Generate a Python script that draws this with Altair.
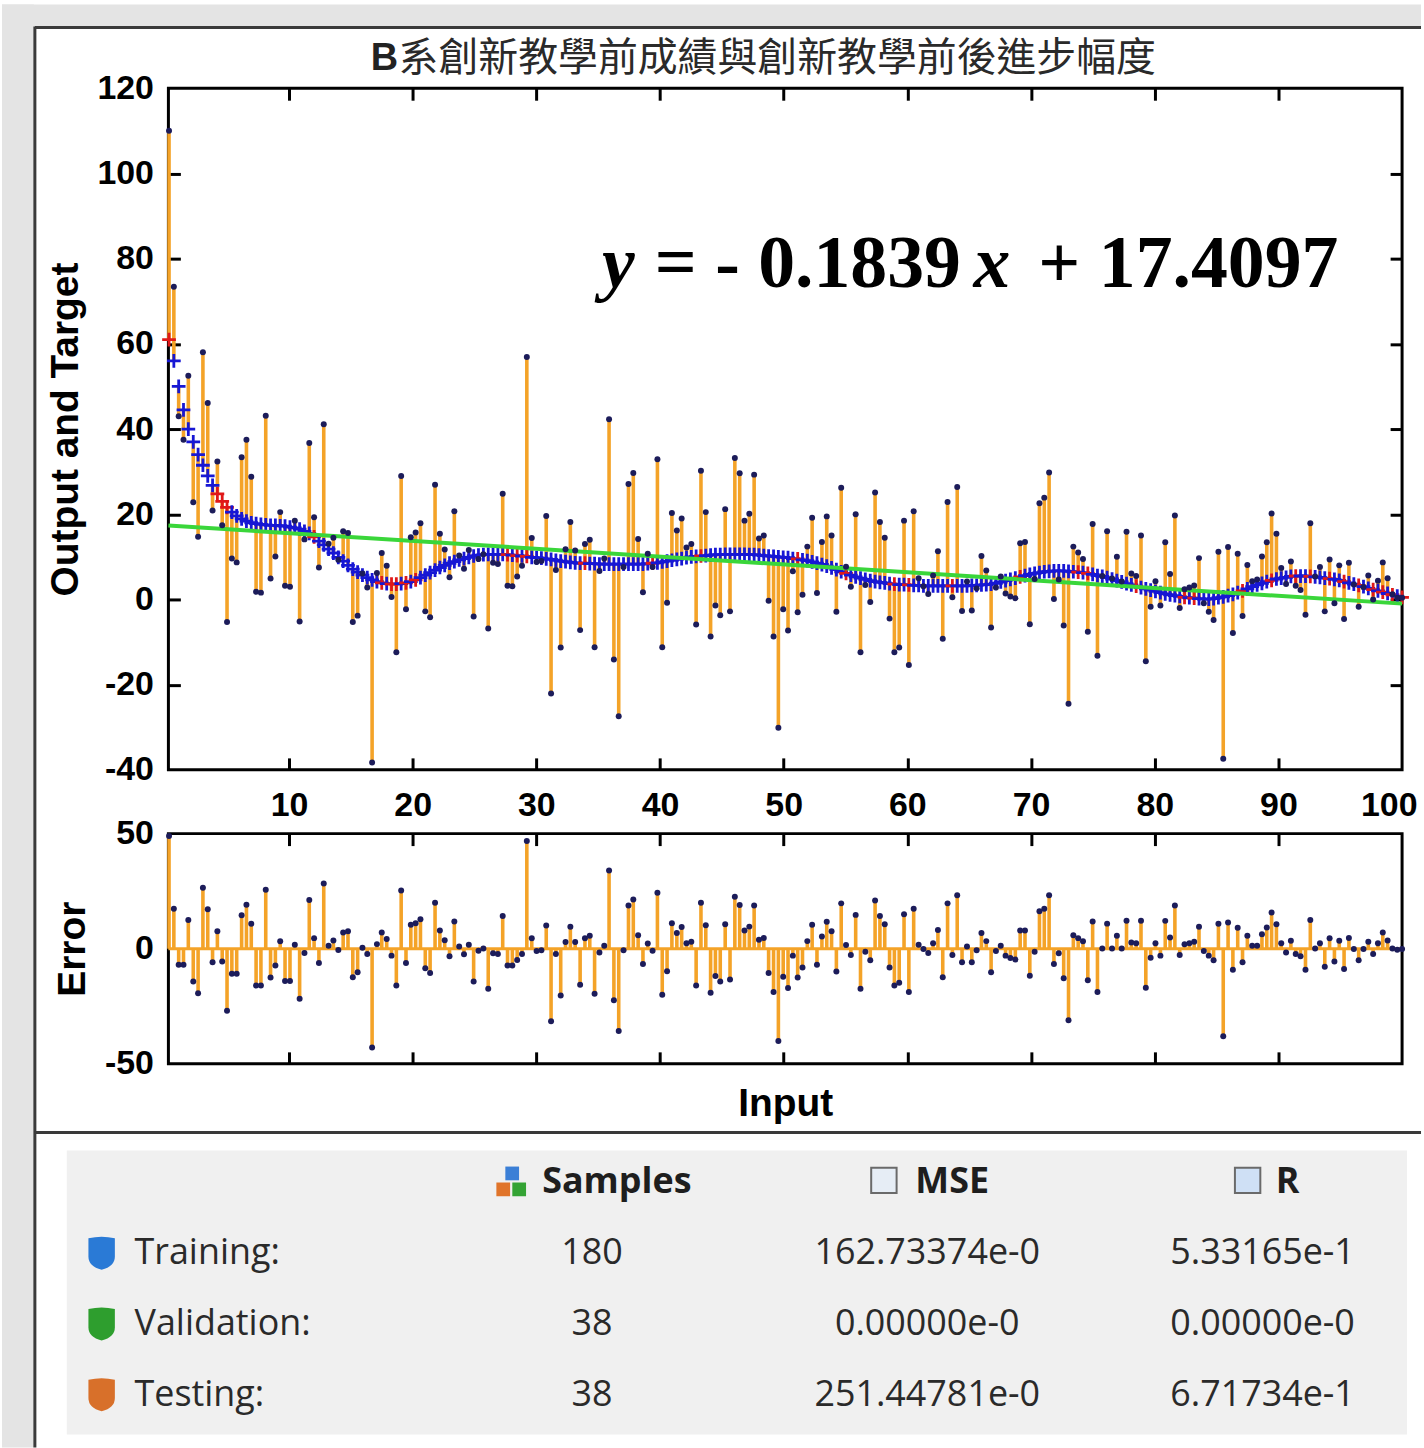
import altair as alt
import pandas as pd

# ---------------- data ----------------
input_x = [
    0.30, 0.69, 1.08, 1.47, 1.86, 2.26, 2.65, 3.04, 3.43, 3.82,
    4.21, 4.60, 4.99, 5.38, 5.77, 6.17, 6.56, 6.95, 7.34, 7.73,
    8.12, 8.51, 8.90, 9.29, 9.68, 10.08, 10.47, 10.86, 11.25, 11.64,
    12.03, 12.42, 12.81, 13.20, 13.59, 13.99, 14.38, 14.77, 15.16, 15.55,
    15.94, 16.33, 16.72, 17.11, 17.50, 17.90, 18.29, 18.68, 19.07, 19.46,
    19.85, 20.24, 20.63, 21.02, 21.41, 21.81, 22.20, 22.59, 22.98, 23.37,
    23.76, 24.15, 24.54, 24.93, 25.32, 25.72, 26.11, 26.50, 26.89, 27.28,
    27.67, 28.06, 28.45, 28.84, 29.23, 29.63, 30.02, 30.41, 30.80, 31.19,
    31.58, 31.97, 32.36, 32.75, 33.14, 33.54, 33.93, 34.32, 34.71, 35.10,
    35.49, 35.88, 36.27, 36.66, 37.05, 37.45, 37.84, 38.23, 38.62, 39.01,
    39.40, 39.79, 40.18, 40.57, 40.96, 41.36, 41.75, 42.14, 42.53, 42.92,
    43.31, 43.70, 44.09, 44.48, 44.87, 45.27, 45.66, 46.05, 46.44, 46.83,
    47.22, 47.61, 48.00, 48.39, 48.78, 49.18, 49.57, 49.96, 50.35, 50.74,
    51.13, 51.52, 51.91, 52.30, 52.69, 53.09, 53.48, 53.87, 54.26, 54.65,
    55.04, 55.43, 55.82, 56.21, 56.60, 57.00, 57.39, 57.78, 58.17, 58.56,
    58.95, 59.34, 59.73, 60.12, 60.51, 60.91, 61.30, 61.69, 62.08, 62.47,
    62.86, 63.25, 63.64, 64.03, 64.42, 64.82, 65.21, 65.60, 65.99, 66.38,
    66.77, 67.16, 67.55, 67.94, 68.33, 68.73, 69.12, 69.51, 69.90, 70.29,
    70.68, 71.07, 71.46, 71.85, 72.24, 72.64, 73.03, 73.42, 73.81, 74.20,
    74.59, 74.98, 75.37, 75.76, 76.15, 76.55, 76.94, 77.33, 77.72, 78.11,
    78.50, 78.89, 79.28, 79.67, 80.06, 80.46, 80.85, 81.24, 81.63, 82.02,
    82.41, 82.80, 83.19, 83.58, 83.97, 84.37, 84.76, 85.15, 85.54, 85.93,
    86.32, 86.71, 87.10, 87.49, 87.88, 88.28, 88.67, 89.06, 89.45, 89.84,
    90.23, 90.62, 91.01, 91.40, 91.79, 92.19, 92.58, 92.97, 93.36, 93.75,
    94.14, 94.53, 94.92, 95.31, 95.70, 96.10, 96.49, 96.88, 97.27, 97.66,
    98.05, 98.44, 98.83, 99.22, 99.61, 100.0,
]

network_output = [
    61, 56, 50, 44.5, 40, 37, 34, 31.5, 29, 26.8,
    24.8, 23, 21.6, 20.5, 19.6, 18.9, 18.4, 18.0, 17.8, 17.6,
    17.5, 17.4, 17.4, 17.3, 17.2, 17.0, 16.8, 16.5, 16.0, 15.5,
    14.7, 13.7, 12.8, 11.8, 10.9, 9.9, 9.0, 8.0, 7.1, 6.4,
    5.7, 5.1, 4.6, 4.2, 3.9, 3.7, 3.6, 3.6, 3.7, 3.9,
    4.2, 4.6, 5.1, 5.7, 6.3, 6.9, 7.5, 8.0, 8.5, 8.9,
    9.3, 9.6, 9.9, 10.2, 10.4, 10.5, 10.6, 10.6, 10.6, 10.6,
    10.5, 10.4, 10.3, 10.2, 10.1, 9.9, 9.8, 9.7, 9.5, 9.4,
    9.2, 9.0, 8.9, 8.7, 8.6, 8.5, 8.5, 8.4, 8.4, 8.3,
    8.3, 8.3, 8.3, 8.3, 8.3, 8.3, 8.3, 8.3, 8.3, 8.4,
    8.5, 8.6, 8.8, 9.0, 9.2, 9.4, 9.6, 9.8, 10.0, 10.1,
    10.2, 10.3, 10.4, 10.5, 10.5, 10.6, 10.6, 10.6, 10.6, 10.6,
    10.5, 10.5, 10.4, 10.3, 10.2, 10.1, 10.0, 9.9, 9.8, 9.6,
    9.5, 9.3, 9.1, 8.8, 8.5, 8.2, 7.8, 7.4, 7.0, 6.5,
    6.1, 5.7, 5.3, 5.0, 4.7, 4.4, 4.2, 4.0, 3.9, 3.7,
    3.6, 3.5, 3.5, 3.4, 3.3, 3.3, 3.2, 3.2, 3.2, 3.2,
    3.2, 3.2, 3.2, 3.2, 3.2, 3.2, 3.3, 3.3, 3.4, 3.5,
    3.6, 3.8, 4.1, 4.4, 4.7, 5.0, 5.3, 5.6, 5.9, 6.1,
    6.3, 6.5, 6.6, 6.7, 6.7, 6.7, 6.6, 6.5, 6.4, 6.3,
    6.1, 5.9, 5.6, 5.4, 5.1, 4.8, 4.4, 4.1, 3.7, 3.4,
    3.1, 2.8, 2.5, 2.2, 1.9, 1.6, 1.3, 1.1, 0.9, 0.7,
    0.5, 0.4, 0.3, 0.2, 0.1, 0.1, 0.2, 0.4, 0.6, 0.9,
    1.2, 1.6, 2.0, 2.5, 3.0, 3.4, 3.8, 4.2, 4.5, 4.8,
    5.0, 5.2, 5.4, 5.5, 5.5, 5.5, 5.4, 5.3, 5.2, 5.0,
    4.9, 4.7, 4.5, 4.2, 3.9, 3.6, 3.3, 3.0, 2.6, 2.3,
    2.0, 1.7, 1.4, 1.1, 0.8, 0.5,
]

errors = [
    49, 17.4, -7, -7, 12.5, -14.2, -19.3, 26.5, 17.1, -5.9,
    7.6, -5.6, -26.9, -10.9, -10.9, 14.5, 19.1, 10.8, -16, -16,
    25.6, -12.5, -7.3, 3.2, -14, -14, 1.7, -21.7, -1.9, 21.2,
    4.6, -6.2, 28.3, 1.3, 3.6, -0.6, 7, 7.6, -12.4, -10.2,
    0.4, -2.3, -42.9, 2, 7, 4.2, -3, -16, 25.3, -6.2,
    10.4, 11.1, 12.8, -8.5, -10.5, 20, 7.9, 3.7, -3.3, 11.8,
    1, -2.4, 1.7, -14.2, -0.9, 0.1, -17.4, -2, -2.3, 14.2,
    -7.3, -7.3, -4.9, -2.3, 46.8, 4.5, -1, -0.7, 10.1, -31.5,
    -2.3, -20.3, 2.9, 9.5, 2.9, -15.7, 4.5, 5.6, -19.6, -1.6,
    1.3, 34, -22.4, -35.7, -0.7, 18.8, 21.4, 5.9, -6.6, 2.3,
    -0.9, 24.3, -20, -9.8, 11.1, 6.8, 9.4, 2.4, 3.0, -16,
    20, 10.2, -19.1, -11.9, -14.2, 10.6, -13.4, 22.6, 19, 7.9,
    9.6, 18.8, 3.9, 4.7, -10.5, -18.8, -40.1, -12.2, -17.1, -3,
    -12.5, -8.2, 3.3, 10.4, -7, 5.3, 11.7, 7.6, -9.9, 19.7,
    1.6, -2.7, 14.7, -17.4, -1.3, -5, 20.9, 14.2, 10.6, -8.2,
    -16, -14.8, 15, -18.8, 17.4, 1.7, -0.1, -1.9, 2.4, 8.1,
    -12.4, 19.7, -2.7, 23.2, -5.9, 1, -5.9, -0.7, 6.8, 3.3,
    -10.2, -1, 1.3, -3, -4, -4.7, 7.9, 7.9, -11.7, -1.3,
    16.3, 17.4, 23.2, -6.6, -2, -12.8, -31.1, 5.9, 4.6, 3.2,
    -13.7, 11.8, -18.8, 0.1, 10.9, 0.1, 5.6, 0.1, 12.2, 2.7,
    2.4, 12.2, -17, -3.9, 2.4, -3, 12.1, 4.9, 18.8, -2.7,
    1.9, 2.4, 3.0, 9.5, -1, -3, -5, 10.8, -38, 11.4,
    -9.1, 9.1, -5.9, 5.6, 1.3, 1.3, 6.3, 9.2, 15.7, 10.6,
    2.4, -1.6, 3.5, -2.3, -3.3, -9.1, 12.5, 0.1, 2.4, -7.8,
    4.5, -5.6, 3.5, -8.8, 4.7, -0.1, -5, -0.1, 3, -2.3,
    2.4, 7, 3.6, 0.1, -0.4, -0.1,
]

testing_idx = [0, 10, 11, 12, 30, 44, 46, 47, 49, 51, 70, 72, 74, 86, 100, 110,
               130, 140, 150, 153, 162, 176, 188, 190, 200, 210, 212, 222, 228,
               233, 236, 240, 243, 246, 249, 251, 253, 255]

trend_slope = -0.1839
trend_intercept = 17.4097
trend_x = [0.25, 100.0]

title_bold = "B"
title_rest = "系創新教學前成績與創新教學前後進步幅度"
eq_parts = ["y", "= - 0.1839", "x", "+ 17.4097"]

table_rows = ["Training:", "Validation:", "Testing:"]
table_samples = ["180", "38", "38"]
table_mse = ["162.73374e-0", "0.00000e-0", "251.44781e-0"]
table_r = ["5.33165e-1", "0.00000e-0", "6.71734e-1"]
table_headers = ["Samples", "MSE", "R"]

x_label_vals = [10, 20, 30, 40, 50, 60, 70, 80, 90, 100]
x_tick_vals = [10, 20, 30, 40, 50, 60, 70, 80, 90]
y_main_labels = [-40, -20, 0, 20, 40, 60, 80, 100, 120]
y_main_ticks = [-20, 0, 20, 40, 60, 80, 100]
y_err_labels = [-50, 0, 50]

# ---------------- tables for the library ----------------
test_set = set(testing_idx)
df = pd.DataFrame({
    "x": input_x,
    "output": network_output,
    "error": errors,
    "target": [round(o + e, 2) for o, e in zip(network_output, errors)],
    "subset": ["Testing" if i in test_set else "Training" for i in range(len(input_x))],
})
trend_df = pd.DataFrame({"tx": trend_x, "ty": [trend_slope * v + trend_intercept for v in trend_x]})

tab_rows, tab_cols, tab_vals = [], [], []
for r, (s, m, rv) in enumerate(zip(table_samples, table_mse, table_r), start=1):
    for c, v in enumerate([s, m, rv], start=1):
        tab_rows.append(r)
        tab_cols.append(c)
        tab_vals.append(v)
tab_df = pd.DataFrame({"row": tab_rows, "col": tab_cols, "val": tab_vals})
hdr_df = pd.DataFrame({"row": [0, 0, 0], "col": [1, 2, 3], "val": table_headers})
lab_df = pd.DataFrame({"row": [1, 2, 3], "val": table_rows})
one = pd.DataFrame({"k": [0]})

# ---------------- styles ----------------
W, H_MAIN, H_ERR, H_TAB, GAP = 1238, 684, 231, 308, 64
ORANGE = "#F4A328"
DOT = "#1c1c5a"
BLUE = "#1717d4"
RED = "#e01818"
GREEN = "#3ad63a"
PAGE = "#e4e4e4"
FRAME = "#3a3a3a"
SANS = "Liberation Sans"
SERIF = "Liberation Serif"
UI = "Open Sans"
CJK = "Noto Sans CJK TC"
LAB, TIT, TICK = 34, 39, 12
STEM_W = 3.6
PLUS = "M-1,0H1M0,-1V1"
SHIELD = "M-0.8,-0.9Q0,-1.1 0.8,-0.9L0.8,0.2Q0.8,0.8 0,1Q-0.8,0.8 -0.8,0.2Z"
HYPHEN_LABEL = "datum.value < 0 ? '-' + abs(datum.value) : '' + datum.value"

xs = alt.Scale(domain=[0.25, 100], nice=False, zero=False)
ys = alt.Scale(domain=[-40, 120], nice=False, zero=False)
es = alt.Scale(domain=[-50, 50], nice=False, zero=False)


def label_axis(orient, values, title=None, title_pad=12, label_pad=15, labels=True,
               flush=False):
    kw = dict(orient=orient, values=values, labels=labels, ticks=False, domain=False,
              grid=False, labelFont=SANS, labelFontSize=LAB, labelFontWeight="bold",
              labelColor="black", labelPadding=label_pad, labelFlush=flush,
              labelOverlap=False, labelExpr=HYPHEN_LABEL, title=title, titleFont=SANS,
              titleFontSize=TIT, titleFontWeight="bold", titleColor="black",
              titlePadding=title_pad)
    if flush:
        kw["labelFlushOffset"] = 15
    return alt.Axis(**kw)


def tick_axis(orient, values):
    return alt.Axis(orient=orient, values=values, offset=-TICK, labels=False, domain=False,
                    grid=False, ticks=True, tickSize=TICK, tickWidth=3, tickColor="black",
                    title=None)


def text_layer(txt, px, py, **kw):
    return alt.Chart(pd.DataFrame({"t": [txt]})).mark_text(**kw).encode(
        text="t:N", x=alt.value(px), y=alt.value(py))


# ---------------- main panel ----------------
deco_left = alt.Chart(one).mark_rect(color=PAGE).encode(
    x=alt.value(-167), x2=alt.value(-135), y=alt.value(-84), y2=alt.value(1364))
deco_top = alt.Chart(one).mark_rect(color=PAGE).encode(
    x=alt.value(-167), x2=alt.value(1257), y=alt.value(-84), y2=alt.value(-62))
border_v = alt.Chart(one).mark_rule(color=FRAME, strokeWidth=3).encode(
    x=alt.value(-134), y=alt.value(-62), y2=alt.value(1364))
border_h = alt.Chart(one).mark_rule(color=FRAME, strokeWidth=3).encode(
    x=alt.value(-134), x2=alt.value(1257), y=alt.value(-61))

stems = alt.Chart(df).mark_rule(color=ORANGE, strokeWidth=STEM_W).encode(
    x=alt.X("x:Q", scale=xs, axis=label_axis("bottom", x_label_vals, label_pad=19,
                                             flush=True)),
    y=alt.Y("output:Q", scale=ys,
            axis=label_axis("left", y_main_labels, title="Output and Target")),
    y2="target:Q",
)
outputs = alt.Chart(df).mark_point(shape=PLUS, filled=False, size=190, strokeWidth=2.8,
                                   opacity=1).encode(
    x=alt.X("x:Q", scale=xs, axis=None),
    y=alt.Y("output:Q", scale=ys, axis=None),
    color=alt.Color("subset:N", scale=alt.Scale(domain=["Training", "Testing"],
                                                range=[BLUE, RED]), legend=None),
)
trend = alt.Chart(trend_df).mark_line(color=GREEN, strokeWidth=4).encode(
    x=alt.X("tx:Q", scale=xs, axis=tick_axis("bottom", x_tick_vals)),
    y=alt.Y("ty:Q", scale=ys, axis=tick_axis("left", y_main_ticks)),
)
targets = alt.Chart(df).mark_circle(size=36, color=DOT, opacity=1).encode(
    x=alt.X("x:Q", scale=xs, axis=tick_axis("top", x_tick_vals)),
    y=alt.Y("target:Q", scale=ys, axis=tick_axis("right", y_main_ticks)),
)

t_b = text_layer(title_bold, 203, -29, font=SANS, fontSize=38, fontWeight="bold",
                 align="left", baseline="middle", color="#222222")
t_r = text_layer(title_rest, 231, -29, font=CJK, fontSize=40, align="left",
                 baseline="middle", color="#2a2a2a")
eq_kw = dict(font=SERIF, fontSize=74, fontWeight="bold", align="left",
             baseline="alphabetic", color="black")
e1 = text_layer(eq_parts[0], 435, 199, fontStyle="italic", **eq_kw)
e2 = text_layer(eq_parts[1], 488, 199, **eq_kw)
e3 = text_layer(eq_parts[2], 808, 199, fontStyle="italic", **eq_kw)
e4 = text_layer(eq_parts[3], 873, 199, **eq_kw)

main = alt.layer(
    deco_left, deco_top, border_v, border_h, stems, outputs, trend, targets,
    t_b, t_r, e1, e2, e3, e4,
).resolve_axis(x="independent", y="independent").properties(
    width=W, height=H_MAIN,
    view=alt.ViewBackground(stroke="black", strokeWidth=3, fill="white"),
)

# ---------------- error panel ----------------
zero_df = pd.DataFrame({"z": [0]})
err_zero = alt.Chart(zero_df).mark_rule(color=ORANGE, strokeWidth=3).encode(
    y=alt.Y("z:Q", scale=es, axis=None))
err_stems = alt.Chart(df).mark_rule(color=ORANGE, strokeWidth=STEM_W).encode(
    x=alt.X("x:Q", scale=xs,
            axis=label_axis("bottom", x_label_vals, labels=False, title="Input", title_pad=21)),
    y=alt.Y("error:Q", scale=es, axis=label_axis("left", y_err_labels, title="Error")),
    y2=alt.datum(0),
)
err_dots = alt.Chart(df).mark_circle(size=36, color=DOT, opacity=1).encode(
    x=alt.X("x:Q", scale=xs, axis=tick_axis("bottom", x_tick_vals)),
    y=alt.Y("error:Q", scale=es, axis=None),
)
err_top = alt.Chart(df).mark_circle(size=10, opacity=0).encode(
    x=alt.X("x:Q", scale=xs, axis=tick_axis("top", x_tick_vals)),
    y=alt.Y("error:Q", scale=es, axis=None),
)
err = alt.layer(err_zero, err_stems, err_dots, err_top).resolve_axis(
    x="independent", y="independent").properties(
    width=W, height=H_ERR,
    view=alt.ViewBackground(stroke="black", strokeWidth=3, fill="white"),
)

# ---------------- statistics table ----------------
tx = alt.Scale(domain=[1, 3], range=[425, 1098])
ty = alt.Scale(domain=[0, 3], range=[55, 268])

tab_bg = alt.Chart(one).mark_rect(color="#f0f0f0").encode(
    x=alt.value(-102), x2=alt.value(1243), y=alt.value(23), y2=alt.value(308))
tab_line = alt.Chart(one).mark_rule(color=FRAME, strokeWidth=3).encode(
    x=alt.value(-134), x2=alt.value(1257), y=alt.value(5))
tab_vals_l = alt.Chart(tab_df).mark_text(font=UI, fontSize=36, color="#2a2a2a").encode(
    x=alt.X("col:Q", scale=tx, axis=None),
    y=alt.Y("row:Q", scale=ty, axis=None),
    text="val:N",
)
tab_hdr = alt.Chart(hdr_df).mark_text(font=UI, fontSize=36, fontWeight="bold",
                                      color="#1e1e1e", dx=25).encode(
    x=alt.X("col:Q", scale=tx, axis=None),
    y=alt.Y("row:Q", scale=ty, axis=None),
    text="val:N",
)
tab_lab = alt.Chart(lab_df).mark_text(font=UI, fontSize=36, color="#2a2a2a",
                                      align="left").encode(
    x=alt.value(-34),
    y=alt.Y("row:Q", scale=ty, axis=None),
    text="val:N",
)
tab_icons = alt.Chart(lab_df).mark_point(shape=SHIELD, filled=True, size=1100,
                                         opacity=1).encode(
    x=alt.value(-67),
    y=alt.Y("row:Q", scale=ty, axis=None),
    color=alt.Color("val:N", scale=alt.Scale(domain=table_rows,
                                             range=["#2a7ad6", "#2e9e2e", "#d8702a"]),
                    legend=None),
)
ic_a = alt.Chart(one).mark_square(size=190, color="#3b7fd6", opacity=1).encode(
    x=alt.value(345), y=alt.value(46))
ic_b = alt.Chart(one).mark_square(size=190, color="#e0742a", opacity=1).encode(
    x=alt.value(336), y=alt.value(62))
ic_c = alt.Chart(one).mark_square(size=190, color="#34a334", opacity=1).encode(
    x=alt.value(352), y=alt.value(62))
ic_mse = alt.Chart(one).mark_square(size=650, color="#e6edf5", stroke="#6a6a6a",
                                    strokeWidth=2, opacity=1).encode(
    x=alt.value(718), y=alt.value(53))
ic_r = alt.Chart(one).mark_square(size=650, color="#cfe0f5", stroke="#6a6a6a",
                                  strokeWidth=2, opacity=1).encode(
    x=alt.value(1083), y=alt.value(53))

table = alt.layer(
    tab_bg, tab_line, tab_vals_l, tab_hdr, tab_lab, tab_icons, ic_a, ic_b, ic_c, ic_mse, ic_r,
).properties(width=W, height=H_TAB, view=alt.ViewBackground(strokeWidth=0))

chart = alt.vconcat(main, err, table, spacing=GAP, bounds="flush").resolve_scale(
    color="independent"
).properties(
    padding={"left": 0, "top": 0, "right": 0, "bottom": 0}
).configure(background="white").configure_view(strokeWidth=0)

chart.save("out.html", embed_options={"renderer": "svg", "actions": False})
